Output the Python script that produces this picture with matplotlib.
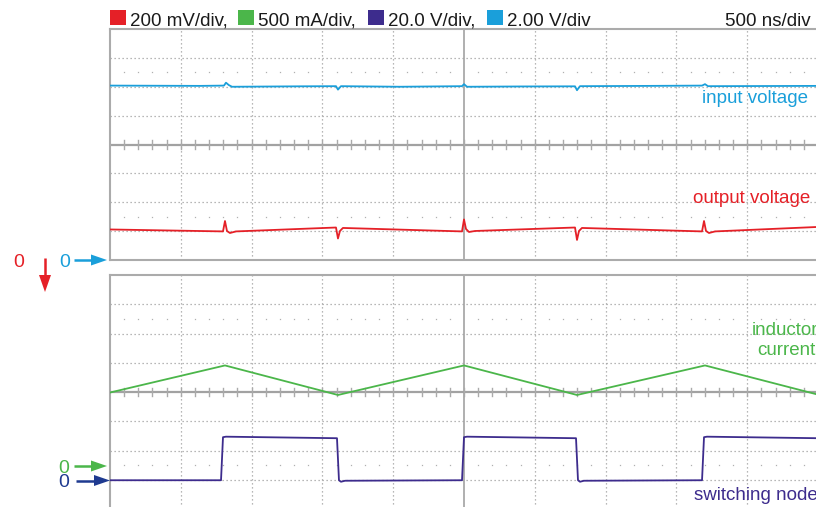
import matplotlib
matplotlib.use("Agg")
import matplotlib.pyplot as plt
from matplotlib.patches import Polygon, Rectangle
import numpy as np

plt.rcParams['font.family'] = ['Liberation Sans', 'DejaVu Sans']

W, H = 816, 507
DPI = 100

# --- scope settings -------------------------------------------------------
time_per_div = 500.0          # ns/div
n_hdiv, n_vdiv = 10, 8
scale_out_mV = 200.0          # output voltage, mV/div
scale_iL_A = 0.5              # inductor current, A/div
scale_sw_V = 20.0             # switching node, V/div
scale_in_V = 2.0              # input voltage, V/div

legend_labels = ["200 mV/div,", "500 mA/div,", "20.0 V/div,", "2.00 V/div"]
timebase_label = "500 ns/div"

# --- captured waveforms ---------------------------------------------------
# input voltage (V)
vin_t = [0, 636, 805, 819, 840, 862, 1342, 1596, 1610, 1631, 2048, 2486, 2500,
         2521, 2895, 3284, 3298, 3319, 3814, 4181, 4202, 4223, 5000]
vin_v = [12.08, 12.06, 12.08, 12.28, 12.11, 12.00, 12.03, 12.04, 11.80, 12.04,
         12.00, 12.04, 12.18, 12.00, 12.02, 12.03, 11.76, 12.04, 12.06, 12.08,
         12.18, 12.04, 12.06]

# output voltage ripple (mV, AC coupled)
vout_t = [0, 798, 812, 826, 847, 890, 1596, 1610, 1624, 1645, 2486, 2500, 2514,
          2535, 2578, 3284, 3298, 3312, 3333, 4181, 4195, 4209, 4230, 4273, 5000]
vout_mV = [3.5, -10, 62, -7, -21, -10, 17, -59, -7, 14, -10, 73, 7, -14, -7,
           17, -69, -7, 14, -10, 62, -7, -21, -10, 21]

# inductor current (A)
il_t = [0, 812, 1610, 2500, 3298, 4202, 5000]
il_A = [1.241, 1.704, 1.199, 1.704, 1.199, 1.704, 1.205]

# switching node voltage (V)
sw_t = [0, 784, 798, 819, 1603, 1617, 1631, 1660, 2486, 2500, 2521, 3291, 3305,
        3319, 3347, 4181, 4195, 4216, 5000]
sw_V = [-0.34, -0.34, 29.1, 29.45, 28.4, -0.34, -1.37, -0.68, -0.34, 29.1,
        29.45, 28.4, -0.34, -1.37, -0.68, -0.34, 29.1, 29.45, 28.4]

# trace reference positions (divisions above the panel bottom)
pos_in = 0.0
pos_out = 1.04
pos_il = 1.5
pos_sw = 1.0

# colours
c_red = '#e52027'
c_green = '#4bb64a'
c_purple = '#3d2c8d'
c_cyan = '#1a9fda'
c_navy = '#1e3a90'
c_grid = '#a0a0a0'
c_frame = '#ababab'

fig = plt.figure(figsize=(W / DPI, H / DPI), dpi=DPI)

# panel geometry in pixels (left, top, right, bottom)
x0, x1 = 110, 818
panels_px = [(29, 260), (275, 509)]


def make_panel(top, bottom):
    ax = fig.add_axes([x0 / W, 1 - bottom / H, (x1 - x0) / W, (bottom - top) / H])
    ax.set_xlim(0, n_hdiv * time_per_div)
    ax.set_ylim(0, n_vdiv)
    ax.set_xticks([])
    ax.set_yticks([])
    for s in ax.spines.values():
        s.set_color(c_frame)
        s.set_linewidth(1.5)
    # dotted graticule
    for k in range(1, n_hdiv):
        if k == n_hdiv // 2:
            continue
        ax.axvline(k * time_per_div, color=c_grid, lw=0.9, ls=(0, (1, 2.2)), zorder=1)
    for k in range(1, n_vdiv):
        if k == n_vdiv // 2:
            continue
        ax.axhline(k, color=c_grid, lw=0.9, ls=(0, (1, 2.2)), zorder=1)
    # centre cross with minor ticks
    ax.axvline(n_hdiv / 2 * time_per_div, color='#a2a2a2', lw=1.2, zorder=1)
    ax.axhline(n_vdiv / 2, color='#a2a2a2', lw=1.6, zorder=1)
    minor = np.arange(time_per_div / 5, n_hdiv * time_per_div, time_per_div / 5)
    for t in minor:
        ax.plot([t, t], [n_vdiv / 2 - 0.14, n_vdiv / 2 + 0.14], color='#aaaaaa',
                lw=1.0, zorder=1)
    # minor dot rows
    dots = [t for t in minor if abs(t / time_per_div - round(t / time_per_div)) > 1e-6]
    for yrow in (1.5, 6.5):
        ax.plot(dots, [yrow] * len(dots), ls='none', marker='s', ms=0.9,
                mew=0, color='#b0b0b0', zorder=1)
    return ax


ax_top = make_panel(*panels_px[0])
ax_bot = make_panel(*panels_px[1])

# top panel: input and output voltage
ax_top.plot(vin_t, np.array(vin_v) / scale_in_V + pos_in, color=c_cyan, lw=1.3, zorder=3)
ax_top.plot(vout_t, np.array(vout_mV) / scale_out_mV + pos_out, color=c_red, lw=1.3, zorder=3)

# bottom panel: inductor current and switching node
ax_bot.plot(il_t, np.array(il_A) / scale_iL_A + pos_il, color=c_green, lw=1.3, zorder=3)
ax_bot.plot(sw_t, np.array(sw_V) / scale_sw_V + pos_sw, color=c_purple, lw=1.3, zorder=3)

# overlay in pixel coordinates for annotations
ov = fig.add_axes([0, 0, 1, 1], facecolor='none')
ov.set_xlim(0, W)
ov.set_ylim(H, 0)
ov.axis('off')

FS = 13.5

# legend row
leg_colors = [c_red, c_green, c_purple, c_cyan]
leg_x = [110, 238, 368, 487]
for lx, col, lab in zip(leg_x, leg_colors, legend_labels):
    ov.add_patch(Rectangle((lx, 9.5), 15.5, 15.5, color=col, lw=0))
    ov.text(lx + 20, 25.5, lab, fontsize=FS, color='#1a1a1a', va='baseline', ha='left')
ov.text(811, 25.5, timebase_label, fontsize=FS, color='#1a1a1a', va='baseline', ha='right')

# trace names
ov.text(808, 103, "input voltage", fontsize=FS, color=c_cyan, ha='right', va='baseline')
ov.text(810, 203, "output voltage", fontsize=FS, color=c_red, ha='right', va='baseline')
ov.text(818, 335, "inductor", fontsize=FS, color=c_green, ha='right', va='baseline')
ov.text(815, 355, "current", fontsize=FS, color=c_green, ha='right', va='baseline')
ov.text(818, 500, "switching node", fontsize=FS, color=c_purple, ha='right', va='baseline')


def right_arrow(xs, xe, y, col):
    ov.plot([xs, xe - 14], [y, y], color=col, lw=1.8, solid_capstyle='butt')
    ov.add_patch(Polygon([(xe - 16, y - 5.5), (xe, y), (xe - 16, y + 5.5)],
                         closed=True, color=col, lw=0))


# zero markers
ov.text(19, 267, "0", fontsize=FS + 0.5, color=c_red, ha='center', va='baseline')
ov.plot([45, 45], [258, 277], color=c_red, lw=1.8, solid_capstyle='butt')
ov.add_patch(Polygon([(39, 275), (45, 292), (51, 275)], closed=True, color=c_red, lw=0))

ov.text(64.5, 267, "0", fontsize=FS + 0.5, color=c_cyan, ha='center', va='baseline')
right_arrow(74, 107, 260, c_cyan)

ov.text(64, 473, "0", fontsize=FS + 0.5, color=c_green, ha='center', va='baseline')
right_arrow(74, 107, 466, c_green)

ov.text(64, 487, "0", fontsize=FS + 0.5, color=c_navy, ha='center', va='baseline')
right_arrow(76, 110, 480.5, c_navy)

fig.savefig("out.png", dpi=DPI)
